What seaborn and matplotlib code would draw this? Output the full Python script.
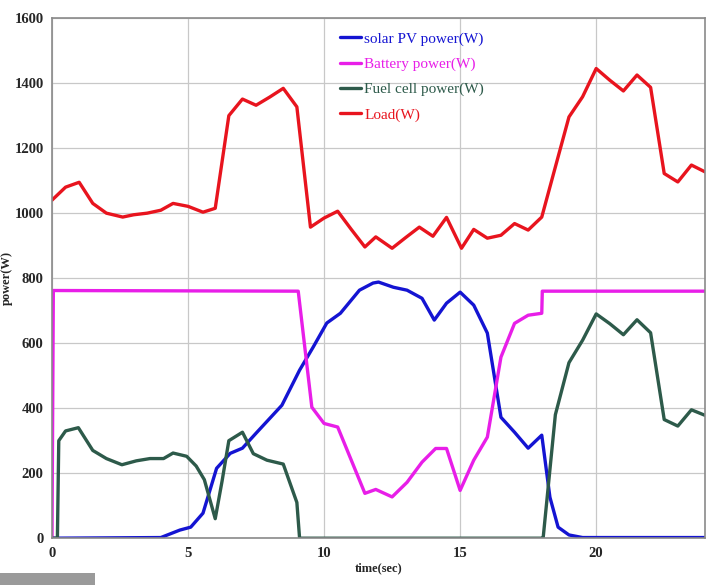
import numpy as np
import pandas as pd
import matplotlib
matplotlib.use("Agg")
import matplotlib.pyplot as plt
import seaborn as sns

# Load (W)
load_t = [0, 0.5, 1.0, 1.5, 2.0, 2.6, 3.0, 3.5, 4.0, 4.45, 5.0, 5.55, 6.0, 6.5, 7.0, 7.5, 8.0, 8.5, 9.0,
          9.5, 10.0, 10.5, 11.0, 11.5, 11.9, 12.5, 13.0, 13.5, 14.0, 14.5, 15.05, 15.5, 16.0, 16.5, 17.0,
          17.5, 18.0, 18.6, 19.0, 19.5, 20.0, 20.5, 21.0, 21.5, 22.0, 22.5, 23.0, 23.5, 24.0]
load_w = [1040, 1080, 1095, 1030, 1000, 988, 995, 1000, 1009, 1030, 1021, 1003, 1015, 1300, 1351, 1332,
          1357, 1384, 1327, 957, 985, 1006, 950, 896, 927, 892, 925, 957, 929, 987, 892, 950, 923, 932,
          968, 948, 988, 1173, 1296, 1358, 1445, 1409, 1376, 1425, 1387, 1122, 1096, 1148, 1127]

# Battery power (W)
batt_t = [0, 0.05, 9.05, 9.55, 10.0, 10.5, 11.5, 11.9, 12.5, 13.05, 13.6, 14.1, 14.5, 15.0, 15.5,
          16.0, 16.5, 17.0, 17.5, 18.0, 18.02, 24.0]
batt_w = [0, 762, 760, 403, 353, 342, 138, 150, 127, 172, 234, 276, 276, 147, 240, 311, 557, 661,
          686, 692, 760, 760]

# Solar PV power (W)
pv_t = [0, 4.0, 4.7, 5.1, 5.55, 6.05, 6.55, 7.0, 7.5, 8.45, 9.1, 9.6, 10.1, 10.6, 11.3, 11.8, 12.0,
        12.55, 13.05, 13.6, 14.05, 14.5, 15.0, 15.5, 16.0, 16.5, 17.0, 17.5, 18.0, 18.3, 18.6, 19.0,
        19.5, 24.0]
pv_w = [0, 2, 25, 34, 77, 215, 261, 277, 323, 409, 517, 588, 662, 692, 763, 785, 788, 772, 763, 738,
        671, 723, 757, 717, 631, 372, 326, 277, 317, 126, 34, 10, 2, 2]

# Fuel cell power (W)
fc_t = [0, 0.2, 0.25, 0.5, 0.97, 1.5, 2.0, 2.57, 3.1, 3.6, 4.1, 4.45, 4.95, 5.3, 5.6, 6.0, 6.25, 6.5,
        7.0, 7.4, 7.9, 8.5, 9.0, 9.1, 18.0, 18.05, 18.5, 19.0, 19.5, 20.0, 20.5, 21.0, 21.5, 22.0,
        22.5, 23.0, 23.5, 24.0]
fc_w = [0, 0, 300, 330, 340, 270, 245, 226, 238, 245, 245, 262, 252, 222, 180, 60, 175, 300, 326,
        260, 240, 228, 110, 0, 0, 0, 380, 540, 609, 690, 660, 626, 672, 632, 365, 345, 395, 378]

series = [
    ("solar PV power(W)", pv_t, pv_w, "#1414d2"),
    ("Battery power(W)", batt_t, batt_w, "#e81ee8"),
    ("Fuel cell power(W)", fc_t, fc_w, "#2d5a4a"),
    ("Load(W)", load_t, load_w, "#e8141e"),
]

sns.set_style("white")
plt.rcParams['font.family'] = ['Liberation Serif', 'DejaVu Serif']

fig = plt.figure(figsize=(7.08, 5.85), dpi=100)
ax = fig.add_axes([0.0734, 0.080, 0.9224, 0.889])

for name, t, w, color in series:
    sns.lineplot(x=t, y=w, ax=ax, color=color, linewidth=2.4, label=name,
                 estimator=None, sort=False)

ax.set_xlim(0, 24)
ax.set_ylim(0, 1600)
ax.set_xticks([0, 5, 10, 15, 20])
ax.set_yticks(np.arange(0, 1601, 200))
ax.grid(True, color="#c8c8c8", linewidth=0.9)
for sp in ax.spines.values():
    sp.set_color("#8a8a8a")
    sp.set_linewidth(1.2)
ax.tick_params(axis="both", labelsize=10.5, length=4, color="#8a8a8a", direction="out", pad=2)
for lbl in ax.get_xticklabels() + ax.get_yticklabels():
    lbl.set_fontweight("bold")
ax.set_xlabel("time(sec)", fontsize=9, fontweight="bold", labelpad=2)
ax.set_ylabel("power(W)", fontsize=9, fontweight="bold")
ax.yaxis.set_label_coords(-0.06, 0.5)

leg = ax.legend(loc="upper left", bbox_to_anchor=(0.42, 1.0), frameon=False, fontsize=11,
                handlelength=1.4, handletextpad=0.2, labelspacing=0.75)
for txt, (name, t, w, color) in zip(leg.get_texts(), series):
    txt.set_color(color)

# status bar remnant at the bottom left
fig.patches.append(plt.Rectangle((0, 0), 95 / 708, 12 / 585, transform=fig.transFigure,
                                 facecolor="#9a9a9a", edgecolor="none"))

fig.savefig("out.png", dpi=100)
